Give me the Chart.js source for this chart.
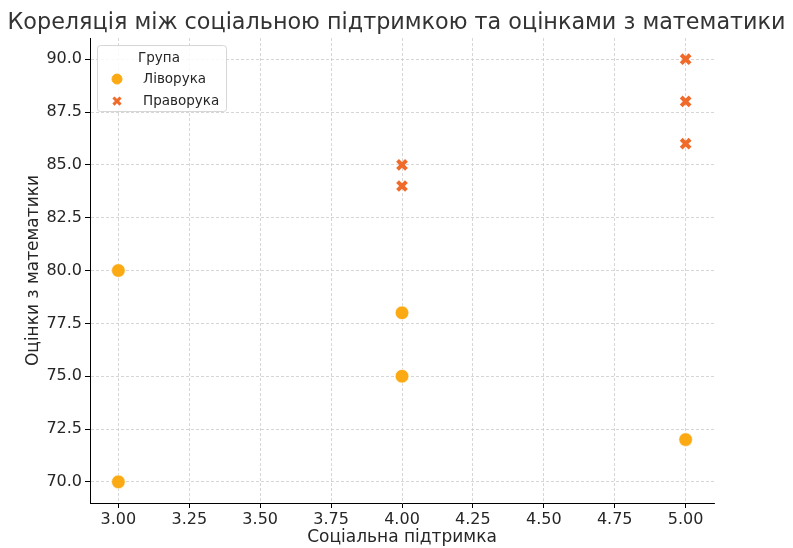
<!DOCTYPE html>
<html>
<head>
<meta charset="utf-8">
<script src="https://cdn.jsdelivr.net/npm/chart.js@4.4.0/dist/chart.umd.min.js"></script>
<style>
  html, body { margin: 0; padding: 0; background: #fff; }
  #wrap { width: 793px; height: 548px; }
</style>
</head>
<body>
<div id="wrap"><canvas id="scatter"></canvas></div>
<script>
// data
const leftSupport = [3, 3, 4, 4, 5];
const leftMath = [80, 70, 78, 75, 72];
const rightSupport = [4, 4, 5, 5, 5];
const rightMath = [85, 84, 90, 88, 86];
const xTicks = [3.0, 3.25, 3.5, 3.75, 4.0, 4.25, 4.5, 4.75, 5.0];
const yTicks = [70.0, 72.5, 75.0, 77.5, 80.0, 82.5, 85.0, 87.5, 90.0];
const groupNames = ['Ліворука', 'Праворука'];

const toPoints = (xs, ys) => xs.map((x, i) => ({ x: x, y: ys[i] }));

const FONT = "'DejaVu Sans', sans-serif";
Chart.defaults.font.family = FONT;
Chart.defaults.color = '#262626';

// legend box inside the plot, like the matplotlib one
const boxLegend = {
  id: 'boxLegend',
  afterDraw(chart) {
    const ctx = chart.ctx;
    const area = chart.chartArea;
    const x0 = area.left + 7, y0 = area.top + 7, w = 129, h = 66;
    ctx.save();
    ctx.fillStyle = 'rgba(255,255,255,0.85)';
    ctx.strokeStyle = '#d6d6d6';
    ctx.lineWidth = 1;
    ctx.beginPath();
    ctx.roundRect(x0 + 0.5, y0 + 0.5, w, h, 3);
    ctx.fill();
    ctx.stroke();
    ctx.font = '13.5px ' + FONT;
    ctx.fillStyle = '#262626';
    ctx.textBaseline = 'middle';
    ctx.textAlign = 'center';
    ctx.fillText('Група', x0 + 62, y0 + 13);
    ctx.textAlign = 'left';
    chart.data.datasets.forEach((ds, i) => {
      const cy = y0 + 34 + i * 22;
      ctx.fillStyle = ds.backgroundColor;
      ctx.strokeStyle = ds.pointStyle === 'circle' ? ds.backgroundColor : ds.borderColor;
      ctx.lineWidth = ds.pointStyle === 'circle' ? 0 : 3;
      Chart.helpers.drawPoint(ctx, {
        pointStyle: ds.pointStyle,
        radius: 5,
        borderWidth: ctx.lineWidth
      }, x0 + 20, cy);
      ctx.fillStyle = '#262626';
      ctx.fillText(groupNames[i], x0 + 46, cy);
    });
    ctx.restore();
  }
};

const chartEl = document.getElementById('scatter');

const gridOpts = {
  color: '#cccccc',
  lineWidth: 0.8,
  tickColor: '#000000',
  tickBorderDash: [],
  tickLength: 5,
  tickWidth: 1
};

new Chart(chartEl, {
  type: 'scatter',
  data: {
    datasets: [{
      label: groupNames[0],
      data: toPoints(leftSupport, leftMath),
      pointStyle: 'circle',
      backgroundColor: '#fbaa14',
      borderColor: '#ffffff',
      borderWidth: 0.6,
      pointRadius: 6.8,
      pointHoverRadius: 6.8
    }, {
      label: groupNames[1],
      data: toPoints(rightSupport, rightMath),
      pointStyle: 'crossRot',
      backgroundColor: '#f06a2a',
      borderColor: '#f06a2a',
      borderWidth: 4,
      pointRadius: 6.3,
      pointHoverRadius: 6.3
    }]
  },
  options: {
    responsive: true,
    maintainAspectRatio: false,
    animation: false,
    layout: { padding: 0 },
    plugins: {
      legend: { display: false },
      tooltip: { enabled: false },
      title: {
        display: true,
        text: 'Кореляція між соціальною підтримкою та оцінками з математики',
        color: '#333333',
        font: { size: 22.3, weight: 'normal' },
        padding: { top: 9.5, bottom: 1.8 }
      }
    },
    scales: {
      x: {
        type: 'linear',
        min: 2.9,
        max: 5.1,
        afterBuildTicks: (scale) => { scale.ticks = xTicks.map(v => ({ value: v })); },
        afterFit: (scale) => { scale.height = 45; },
        ticks: {
          font: { size: 16 },
          color: '#262626',
          padding: 2,
          maxRotation: 0,
          callback: (v) => Number(v).toFixed(2)
        },
        grid: gridOpts,
        border: { display: true, color: '#000000', width: 1, dash: [3, 2] },
        title: {
          display: true,
          text: 'Соціальна підтримка',
          font: { size: 17 },
          color: '#262626',
          padding: { top: 0, bottom: 0 }
        }
      },
      y: {
        type: 'linear',
        min: 69,
        max: 91,
        afterBuildTicks: (scale) => { scale.ticks = yTicks.map(v => ({ value: v })); },
        afterFit: (scale) => { scale.width = 90; },
        ticks: {
          font: { size: 16 },
          color: '#262626',
          padding: 3,
          callback: (v) => Number(v).toFixed(1)
        },
        grid: gridOpts,
        border: { display: true, color: '#000000', width: 1, dash: [3, 2] },
        title: {
          display: true,
          text: 'Оцінки з математики',
          font: { size: 17 },
          color: '#262626',
          padding: { top: 23, bottom: 0 }
        }
      },
      // empty right-hand axis, only keeps the plot's right margin
      spacer: {
        type: 'linear',
        position: 'right',
        display: true,
        afterFit: (scale) => { scale.width = 79; },
        ticks: { display: false },
        grid: { display: false, drawTicks: false },
        border: { display: false }
      }
    }
  },
  plugins: [boxLegend]
});
</script>
</body>
</html>
